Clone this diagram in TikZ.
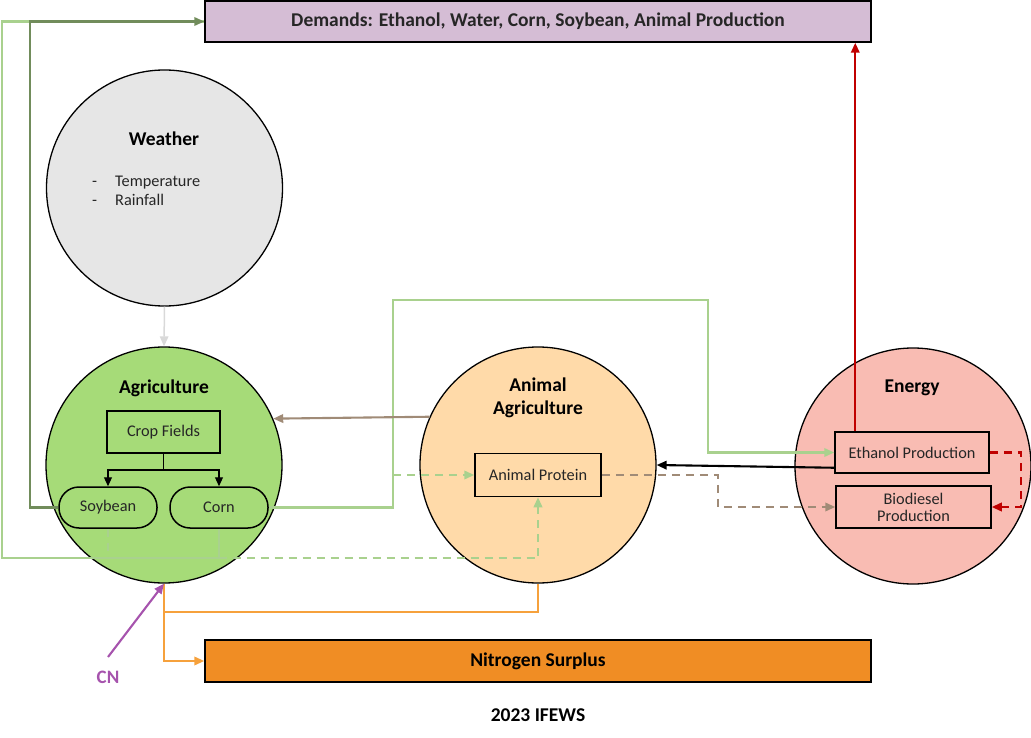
\documentclass[tikz,border=0pt]{standalone}
\usepackage{fontspec}
\setmainfont{Carlito}
\usetikzlibrary{arrows.meta,calc}
\definecolor{demfill}{HTML}{D5BDD5}
\definecolor{weafill}{HTML}{E6E6E6}
\definecolor{agfill}{HTML}{A6DB78}
\definecolor{anfill}{HTML}{FFDAA9}
\definecolor{enfill}{HTML}{F9BCB3}
\definecolor{nitfill}{HTML}{F08D24}
\definecolor{dkgreen}{HTML}{718C5B}
\definecolor{ltgreen}{HTML}{A9D18E}
\definecolor{brownc}{HTML}{A08B77}
\definecolor{orangec}{HTML}{F6A13C}
\definecolor{redc}{HTML}{C00000}
\definecolor{cnpurple}{HTML}{A653AD}
\definecolor{grayarr}{HTML}{D9D9D9}
\begin{document}
\begin{tikzpicture}[x=1pt,y=-1pt,
  bodyfont/.style={font=\fontsize{16.3}{19}\selectfont},
  boldfont/.style={font=\bfseries\fontsize{19.5}{24}\selectfont},
  bigc/.style={circle,draw=black,line width=1.3pt,minimum size=236pt,inner sep=0pt},
  box/.style={rectangle,draw=black,line width=1.5pt,inner sep=2pt,bodyfont,text=black!85},
  pill/.style={rectangle,rounded corners=20pt,draw=black,line width=1.5pt,minimum width=98pt,minimum height=41pt,bodyfont,text=black!85},
  title/.style={boldfont,inner sep=0pt},
  conn/.style={line width=2.1pt,-{Triangle[length=10pt,width=8.5pt]}},
  plain/.style={line width=2.1pt},
  dashline/.style={dash pattern=on 8pt off 6pt}
]
\useasboundingbox (0,0) rectangle (1031,738);

% top and bottom bars
\node[box,fill=demfill,minimum width=666pt,minimum height=41pt,boldfont] (dem) at (538,21.5) {Demands: Ethanol, Water, Corn, Soybean, Animal Production};
\node[box,fill=nitfill,minimum width=666pt,minimum height=42pt,boldfont,text=black] (nit) at (538,661) {Nitrogen Surplus};
\node[title] (year) at (538,715) {2023 IFEWS};

% weather
\node[bigc,fill=weafill] (wea) at (164.5,188) {};
\node[title] (weaT) at (164,139) {Weather};
\node[bodyfont,text=black!85,anchor=base west,inner sep=0pt] (d1) at (92,187) {-};
\node[bodyfont,text=black!85,anchor=base west,inner sep=0pt] (d2) at (92,206) {-};
\node[bodyfont,text=black!85,anchor=base west,inner sep=0pt] (temp) at (115,187) {Temperature};
\node[bodyfont,text=black!85,anchor=base west,inner sep=0pt] (rain) at (115,206) {Rainfall};

% agriculture
\node[bigc,fill=agfill] (ag) at (164,465) {};
\node[title] (agT) at (164,388) {Agriculture};
\node[box,minimum width=113pt,minimum height=42pt] (crop) at (163.5,432) {Crop Fields};
\node[pill] (soy) at (108,507.5) {Soybean};
\node[pill] (corn) at (219,507.5) {Corn};

% animal agriculture
\node[bigc,fill=anfill] (an) at (538,465) {};
\node[title,align=center] (anT) at (538,398) {Animal\\[-1pt]Agriculture};
\node[box,minimum width=126pt,minimum height=43pt] (prot) at (538,475) {Animal Protein};

% energy
\node[bigc,fill=enfill] (en) at (913,466) {};
\node[title] (enT) at (912,388) {Energy};
\node[box,minimum width=154pt,minimum height=41pt] (eth) at (912,452.5) {Ethanol Production};
\node[box,minimum width=155pt,minimum height=42pt,align=center] (bio) at (913.5,507) {Biodiesel\\[-2pt]Production};

% CN
\node[title,text=cnpurple,font=\bfseries\fontsize{19}{22}\selectfont] (cn) at (108,677) {CN};

% coordinates
\coordinate (split) at (163.5,470);
\coordinate (j1) at (393,475);
\coordinate (oj) at (164,612);
\coordinate (cnS) at (108,657);
\coordinate (ethTop) at ($(eth.north west)+(21,0)$);

% connectors
\draw[grayarr,conn,line width=1.5pt] (wea.south) -- (ag.north);
\draw[black,line width=1.1pt,-{Triangle[length=9pt,width=8pt]}] (crop.south) -- (split) -| (soy.north);
\draw[black,line width=1.1pt,-{Triangle[length=9pt,width=8pt]}] (split) -| (corn.north);

\draw[ltgreen,plain] (corn.south) -- ++(0,29.5) -| (2,21.5) -- (dem.west);
\draw[dkgreen,conn] (soy.west) -- (30,507.5) |- (dem.west);
\draw[ltgreen,conn,dashline] (soy.south) -- ++(0,29.5) -| (prot.south);
\draw[ltgreen,conn] (corn.east) -- (393,507.5) |- (708,300) |- (eth.west);
\draw[ltgreen,conn,dashline] (j1) -- (prot.west);
\draw[brownc,conn] (an.156.5) -- (ag.23.5);
\draw[brownc,conn,dashline] (prot.east) -- (718,475) |- (bio.west);
\draw[black,conn] ($(eth.south west)+(0,-6)$) -- (an.east);
\draw[redc,conn,dashline] (eth.east) -- (1021,452.5) |- (bio.east);
\draw[redc,conn] (ethTop) -- (ethTop |- dem.south);
\draw[orangec,conn] (ag.south) -- (164,661) -- (nit.west);
\draw[orangec,plain] (oj) -| (an.south);
\draw[cnpurple,conn] (cnS) -- (ag.south);
\end{tikzpicture}
\end{document}
